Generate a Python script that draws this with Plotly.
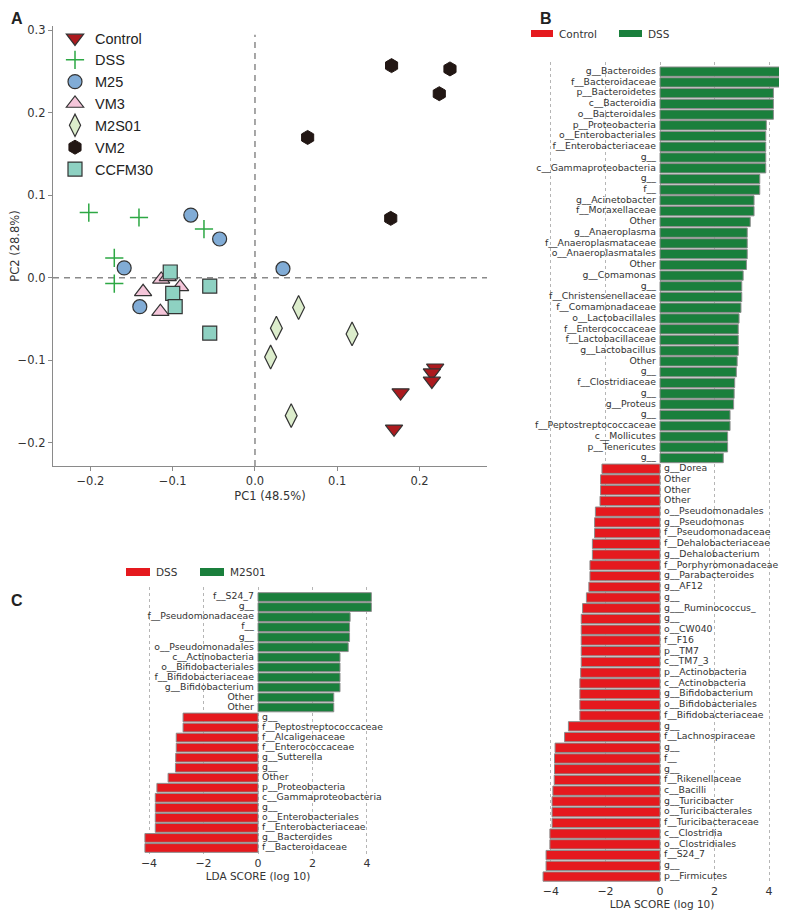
import plotly.graph_objects as go

# The page body has an 8 px margin, so the figure is drawn 8 px in from the window corner.
VIEW_W, VIEW_H = 787, 915
OFF = 8
W, H = VIEW_W - OFF, VIEW_H - OFF

# ---------------- Panel A data (PCA) ----------------
control_pc1 = [0.219, 0.215, 0.215, 0.177, 0.169]
control_pc2 = [-0.109, -0.115, -0.125, -0.139, -0.183]
dss_pc1 = [-0.202, -0.141, -0.062, -0.171, -0.171]
dss_pc2 = [0.079, 0.073, 0.059, 0.024, -0.007]
m25_pc1 = [-0.078, -0.043, -0.159, -0.140, 0.034]
m25_pc2 = [0.076, 0.047, 0.012, -0.035, 0.011]
vm3_pc1 = [-0.136, -0.114, -0.106, -0.091, -0.115]
vm3_pc2 = [-0.017, -0.002, 0.001, -0.011, -0.041]
m2s01_pc1 = [0.053, 0.026, 0.118, 0.019, 0.044]
m2s01_pc2 = [-0.036, -0.061, -0.068, -0.096, -0.167]
vm2_pc1 = [0.166, 0.237, 0.224, 0.064, 0.165]
vm2_pc2 = [0.257, 0.253, 0.223, 0.170, 0.072]
ccfm30_pc1 = [-0.103, -0.100, -0.097, -0.055, -0.055]
ccfm30_pc2 = [0.007, -0.019, -0.035, -0.010, -0.067]

pc1_ticks = [-0.2, -0.1, 0.0, 0.1, 0.2]
pc2_ticks = [-0.2, -0.1, 0.0, 0.1, 0.2, 0.3]

# ---------------- Panel B data (LEfSe Control vs DSS) ----------------
b_dss_labels = ["g__Bacteroides", "f__Bacteroidaceae", "p__Bacteroidetes", "c__Bacteroidia",
                "o__Bacteroidales", "p__Proteobacteria", "o__Enterobacteriales", "f__Enterobacteriaceae",
                "g__", "c__Gammaproteobacteria", "g__", "f__", "g__Acinetobacter", "f__Moraxellaceae",
                "Other", "g__Anaeroplasma", "f__Anaeroplasmataceae", "o__Anaeroplasmatales", "Other",
                "g__Comamonas", "g__", "f__Christensenellaceae", "f__Comamonadaceae", "o__Lactobacillales",
                "f__Enterococcaceae", "f__Lactobacillaceae", "g__Lactobacillus", "Other", "g__",
                "f__Clostridiaceae", "g__", "g__Proteus", "g__", "f__Peptostreptococcaceae",
                "c__Mollicutes", "p__Tenericutes", "g__"]
b_dss_values = [4.54, 4.54, 4.16, 4.16, 4.16, 3.90, 3.88, 3.88, 3.88, 3.88, 3.66, 3.66, 3.45, 3.45,
                3.31, 3.20, 3.20, 3.20, 3.17, 3.05, 3.00, 3.00, 2.97, 2.90, 2.87, 2.87, 2.87, 2.83,
                2.80, 2.74, 2.72, 2.70, 2.57, 2.57, 2.48, 2.48, 2.32]
b_control_labels = ["g__Dorea", "Other", "Other", "Other", "o__Pseudomonadales", "g__Pseudomonas",
                    "f__Pseudomonadaceae", "f__Dehalobacteriaceae", "g__Dehalobacterium",
                    "f__Porphyromonadaceae", "g__Parabacteroides", "g__AF12", "g__", "g___Ruminococcus_",
                    "g__", "o__CW040", "f__F16", "p__TM7", "c__TM7_3", "p__Actinobacteria",
                    "c__Actinobacteria", "g__Bifidobacterium", "o__Bifidobacteriales",
                    "f__Bifidobacteriaceae", "g__", "f__Lachnospiraceae", "g__", "f__", "g__",
                    "f__Rikenellaceae", "c__Bacilli", "g__Turicibacter", "o__Turicibacterales",
                    "f__Turicibacteraceae", "c__Clostridia", "o__Clostridiales", "f__S24_7", "g__",
                    "p__Firmicutes"]
b_control_values = [-2.13, -2.18, -2.18, -2.20, -2.37, -2.40, -2.40, -2.48, -2.48, -2.57, -2.57,
                    -2.61, -2.70, -2.84, -2.89, -2.89, -2.89, -2.89, -2.89, -2.91, -2.94, -2.94,
                    -2.94, -2.94, -3.36, -3.50, -3.85, -3.87, -3.87, -3.88, -3.93, -3.96, -3.96,
                    -3.96, -4.04, -4.04, -4.18, -4.18, -4.29]

# ---------------- Panel C data (LEfSe DSS vs M2S01) ----------------
c_m2s01_labels = ["f__S24_7", "g__", "f__Pseudomonadaceae", "f__", "g__", "o__Pseudomonadales",
                  "c__Actinobacteria", "o__Bifidobacteriales", "f__Bifidobacteriaceae",
                  "g__Bifidobacterium", "Other", "Other"]
c_m2s01_values = [4.16, 4.16, 3.38, 3.36, 3.36, 3.31, 3.01, 3.01, 3.01, 3.01, 2.78, 2.78]
c_dss_labels = ["g__", "f__Peptostreptococcaceae", "f__Alcaligenaceae", "f__Enterococcaceae",
                "g__Sutterella", "g__", "Other", "p__Proteobacteria", "c__Gammaproteobacteria",
                "g__", "o__Enterobacteriales", "f__Enterobacteriaceae", "g__Bacteroides",
                "f__Bacteroidaceae"]
c_dss_values = [-2.75, -2.75, -3.00, -3.00, -3.02, -3.03, -3.30, -3.71, -3.77, -3.77, -3.77,
                -3.77, -4.15, -4.15]

lda_ticks = [-4, -2, 0, 2, 4]

# ---------------- styling ----------------
RED = "#E5191E"
GREEN = "#1A7F3C"
BAR_EDGE = "#8c8c8c"
TXT = "#333333"
FONT = "DejaVu Sans"


def px_x(p):
    return (p - OFF) / W


def px_y(p):
    return 1 - (p - OFF) / H


def dx(p0, p1):
    return [px_x(p0), px_x(p1)]


def dy(top, bottom):
    return [px_y(bottom), px_y(top)]


fig = go.Figure()

# ---- Panel A traces ----
marker_edge = dict(color="#333333", width=1.2)
groupspec = [
    ("Control", control_pc1, control_pc2, dict(symbol="triangle-down", size=15, color="#AC1A1E", line=marker_edge)),
    ("DSS", dss_pc1, dss_pc2, dict(symbol="cross-thin", size=13, color="#2DA844", line=dict(color="#2DA844", width=1.5))),
    ("M25", m25_pc1, m25_pc2, dict(symbol="circle", size=14, color="#81ACD6", line=marker_edge)),
    ("VM3", vm3_pc1, vm3_pc2, dict(symbol="triangle-up", size=15, color="#F5C6DA", line=marker_edge)),
    ("M2S01", m2s01_pc1, m2s01_pc2, dict(symbol="diamond-tall", size=17, color="#DCEDCC", line=marker_edge)),
    ("VM2", vm2_pc1, vm2_pc2, dict(symbol="hexagon", size=14, color="#221714", line=dict(color="#221714", width=1))),
    ("CCFM30", ccfm30_pc1, ccfm30_pc2, dict(symbol="square", size=14, color="#8ED1C2", line=marker_edge)),
]
for name, xs, ys, mk in groupspec:
    fig.add_trace(go.Scatter(x=xs, y=ys, mode="markers", name=name, marker=mk,
                             xaxis="x", yaxis="y", showlegend=True, cliponaxis=False))

label_font = dict(family=FONT, size=9.3, color=TXT)
ghost = dict(size=5, color="rgba(0,0,0,0)")


def add_lefse(pos_labels, pos_vals, neg_labels, neg_vals, xa, ya):
    npos = len(pos_labels)
    y_pos = list(range(npos))
    y_neg = list(range(npos, npos + len(neg_labels)))
    fig.add_trace(go.Bar(x=pos_vals + neg_vals, y=y_pos + y_neg, orientation="h",
                         marker=dict(color=[GREEN] * npos + [RED] * len(neg_labels),
                                     line=dict(color=BAR_EDGE, width=1)),
                         xaxis=xa, yaxis=ya, showlegend=False, hoverinfo="skip"))
    fig.add_trace(go.Scatter(x=[0] * npos, y=y_pos, text=pos_labels, mode="markers+text", marker=ghost,
                             textposition="middle left", textfont=label_font,
                             xaxis=xa, yaxis=ya, showlegend=False, hoverinfo="skip", cliponaxis=False))
    fig.add_trace(go.Scatter(x=[0] * len(neg_labels), y=y_neg, text=neg_labels, mode="markers+text",
                             marker=ghost, textposition="middle right", textfont=label_font,
                             xaxis=xa, yaxis=ya, showlegend=False, hoverinfo="skip", cliponaxis=False))


add_lefse(b_dss_labels, b_dss_values, b_control_labels, b_control_values, "x2", "y2")
add_lefse(c_m2s01_labels, c_m2s01_values, c_dss_labels, c_dss_values, "x3", "y3")

axis_gray = "#8a8a8a"
common_a = dict(showgrid=False, zeroline=False, showline=True, linecolor=axis_gray, linewidth=1.3,
                ticks="outside", ticklen=4, tickcolor=axis_gray, tickwidth=1.2,
                tickfont=dict(family=FONT, size=11.5, color=TXT), tickformat=".1f", automargin=False)
lda_axis = dict(showgrid=True, gridcolor="#b5b5b5", griddash="dot", gridwidth=1, zeroline=False,
                showline=False, ticks="", tickvals=lda_ticks, automargin=False,
                tickfont=dict(family=FONT, size=11, color=TXT))

fig.update_layout(
    width=W, height=H, autosize=False,
    margin=dict(l=0, r=0, t=0, b=0, autoexpand=False),
    paper_bgcolor="white", plot_bgcolor="white",
    barmode="overlay", bargap=0.13,
    font=dict(family=FONT, color=TXT),
    xaxis=dict(domain=dx(53, 487), range=[-0.2455, 0.282], tickvals=pc1_ticks, anchor="y",
               title=dict(text="PC1 (48.5%)", font=dict(family=FONT, size=11.5, color=TXT), standoff=4),
               **common_a),
    yaxis=dict(domain=dy(26, 466), range=[-0.228, 0.305], tickvals=pc2_ticks, anchor="x",
               title=dict(text="PC2 (28.8%)", font=dict(family=FONT, size=11.5, color=TXT), standoff=1),
               **common_a),
    xaxis2=dict(domain=dx(538.7, 785.4), range=[-4.45, 4.6], anchor="y2",
                title=dict(text="LDA SCORE (log 10)", font=dict(family=FONT, size=10.5, color=TXT), standoff=2),
                **lda_axis),
    yaxis2=dict(domain=dy(62, 883), range=[75.6, -0.9], anchor="x2", visible=False),
    xaxis3=dict(domain=dx(142.2, 373.8), range=[-4.25, 4.25], anchor="y3",
                title=dict(text="LDA SCORE (log 10)", font=dict(family=FONT, size=10.5, color=TXT), standoff=2),
                **lda_axis),
    yaxis3=dict(domain=dy(587, 855), range=[25.7, -1.0], anchor="x3", visible=False),
    legend=dict(x=px_x(55), y=px_y(22), xanchor="left", yanchor="top", bgcolor="rgba(0,0,0,0)",
                font=dict(family="Liberation Sans", size=14.5, color="#222222"),
                tracegroupgap=0, itemsizing="trace"),
    showlegend=True,
)

# dashed zero lines in panel A
fig.add_shape(type="line", xref="x", yref="y domain", x0=0, x1=0, y0=0, y1=0.98,
              line=dict(color="#8a8a8a", width=1.5, dash="6px,5px"), layer="below")
fig.add_shape(type="line", xref="x domain", yref="y", x0=0, x1=1, y0=0, y1=0,
              line=dict(color="#8a8a8a", width=1.5, dash="6px,5px"), layer="below")


# manual legends for B and C
def swatch(x0, x1, ytop, ybot, color):
    fig.add_shape(type="rect", xref="paper", yref="paper", x0=px_x(x0), x1=px_x(x1),
                  y0=px_y(ybot), y1=px_y(ytop), fillcolor=color, line=dict(width=0))


def label(x, y, text, size=10.5, bold=False, family=FONT, yanchor="middle"):
    fig.add_annotation(xref="paper", yref="paper", x=px_x(x), y=px_y(y),
                       text=f"<b>{text}</b>" if bold else text,
                       showarrow=False, xanchor="left", yanchor=yanchor,
                       font=dict(family=family, size=size, color="#222222" if bold else TXT))


swatch(531, 553, 30, 37, RED)
label(557, 33.5, "Control")
swatch(619, 642, 30, 37, GREEN)
label(646, 33.5, "DSS")

swatch(126, 150, 568, 576, RED)
label(154, 572, "DSS")
swatch(200, 224, 568, 576, GREEN)
label(228, 572, "M2S01")

# panel letters (top edge of the drawing area is 8 px below the window top)
label(9, OFF, "A", size=16, bold=True, family="Liberation Sans", yanchor="top")
label(538, OFF, "B", size=16, bold=True, family="Liberation Sans", yanchor="top")
label(9, 600, "C", size=16, bold=True, family="Liberation Sans")

fig.write_html("out.html")
